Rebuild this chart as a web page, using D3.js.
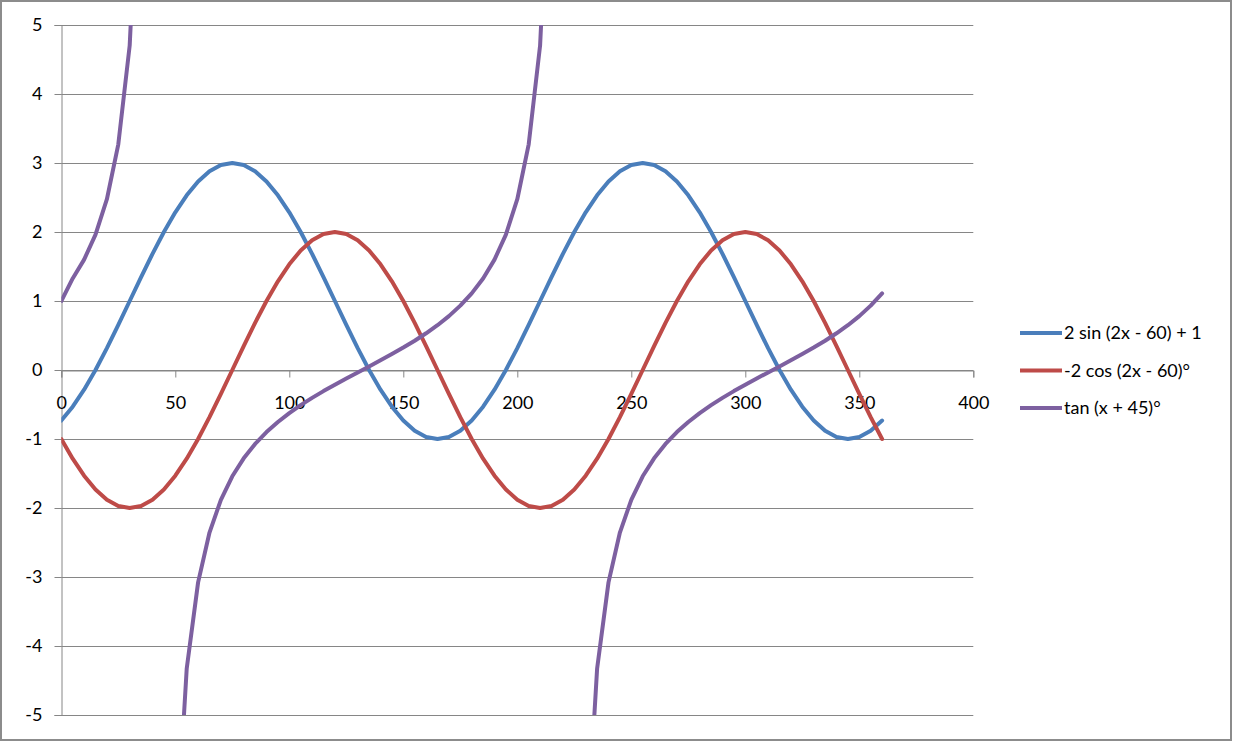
<!DOCTYPE html>
<html>
<head>
<meta charset="utf-8">
<script src="https://cdn.jsdelivr.net/npm/d3@7"></script>
<style>
html,body{margin:0;padding:0;background:#fff;}
svg{display:block;}
text{font-family:Lato,"Open Sans",sans-serif;fill:#000;}
</style>
</head>
<body>
<svg id="chart" width="1233" height="742"></svg>
<script>
const xValues = [0,5,10,15,20,25,30,35,40,45,50,55,60,65,70,75,80,85,90,95,100,105,110,115,120,125,130,135,140,145,150,155,160,165,170,175,180,
185,190,195,200,205,210,215,220,225,230,235,240,245,250,255,260,265,270,275,280,285,290,295,300,305,310,315,320,325,330,335,340,345,350,355,360];

const sinSeries = [-0.732,-0.532,-0.286,0,0.316,0.653,1,1.347,1.684,2,2.286,2.532,2.732,2.879,2.970,3,2.970,2.879,2.732,2.532,2.286,2,1.684,1.347,1,0.653,0.316,0,-0.286,-0.532,-0.732,-0.879,-0.970,-1,-0.970,-0.879,-0.732,
-0.532,-0.286,0,0.316,0.653,1,1.347,1.684,2,2.286,2.532,2.732,2.879,2.970,3,2.970,2.879,2.732,2.532,2.286,2,1.684,1.347,1,0.653,0.316,0,-0.286,-0.532,-0.732,-0.879,-0.970,-1,-0.970,-0.879,-0.732];

const cosSeries = [-1,-1.286,-1.532,-1.732,-1.879,-1.970,-2,-1.970,-1.879,-1.732,-1.532,-1.286,-1,-0.684,-0.347,0,0.347,0.684,1,1.286,1.532,1.732,1.879,1.970,2,1.970,1.879,1.732,1.532,1.286,1,0.684,0.347,0,-0.347,-0.684,-1,
-1.286,-1.532,-1.732,-1.879,-1.970,-2,-1.970,-1.879,-1.732,-1.532,-1.286,-1,-0.684,-0.347,0,0.347,0.684,1,1.286,1.532,1.732,1.879,1.970,2,1.970,1.879,1.732,1.532,1.286,1,0.684,0.347,0,-0.347,-0.684,-1];

const tanSeries = [1,1.327,1.600,1.963,2.475,3.271,4.705,8.144,null,null,-7.115,-4.331,-3.078,-2.356,-1.881,-1.540,-1.280,-1.072,-0.900,-0.754,-0.625,-0.510,-0.404,-0.306,-0.213,-0.123,-0.035,0.052,0.141,0.231,0.325,0.424,0.532,0.649,0.781,0.933,1.111,
1.327,1.600,1.963,2.475,3.271,4.705,8.144,null,null,-7.115,-4.331,-3.078,-2.356,-1.881,-1.540,-1.280,-1.072,-0.900,-0.754,-0.625,-0.510,-0.404,-0.306,-0.213,-0.123,-0.035,0.052,0.141,0.231,0.325,0.424,0.532,0.649,0.781,0.933,1.111];

const seriesNames = ["2 sin (2x - 60) + 1", "-2 cos (2x - 60)°", "tan (x + 45)°"];
const seriesColors = ["#4A7EBB", "#BE4B48", "#7D60A0"];
const xTicks = [0,50,100,150,200,250,300,350,400];
const yTicks = [-5,-4,-3,-2,-1,0,1,2,3,4,5];

(function(){
const svg = d3.select("#chart");
const W = 1233, H = 742;
const pLeft = 61.3, pRight = 973.3, pTop = 25, pBottom = 715;

// outer border
svg.append("rect").attr("x",1).attr("y",1).attr("width",W-3).attr("height",H-3)
  .attr("fill","#fff").attr("stroke","#8c8c8c").attr("stroke-width",2);

const x = d3.scaleLinear().domain([0,400]).range([pLeft,pRight]);
const y = d3.scaleLinear().domain([-5,5]).range([pBottom,pTop]);
const grid = "#868686";
const fmt = d => String(d);

// horizontal gridlines
svg.append("g").selectAll("line").data(yTicks).join("line")
  .attr("x1",pLeft).attr("x2",pRight)
  .attr("y1",d=>Math.round(y(d))+0.5).attr("y2",d=>Math.round(y(d))+0.5)
  .attr("stroke",grid).attr("stroke-width",1);

// y axis
const yAxis = d3.axisLeft(y).tickValues(yTicks).tickSize(7).tickPadding(12).tickFormat(fmt);
const gy = svg.append("g").attr("transform",`translate(${Math.round(pLeft)+0.5},0)`).call(yAxis);
gy.select(".domain").attr("stroke",grid);
gy.selectAll(".tick line").attr("stroke",grid);
gy.selectAll(".tick text").attr("font-size",18).attr("font-family","Lato").attr("fill","#000");

// x axis at y=0
const xAxis = d3.axisBottom(x).tickValues(xTicks).tickSize(7).tickPadding(19).tickFormat(fmt);
const gx = svg.append("g").attr("transform",`translate(0,${Math.round(y(0))+0.5})`).call(xAxis);
gx.select(".domain").attr("stroke",grid);
gx.selectAll(".tick line").attr("stroke",grid);
gx.selectAll(".tick text").attr("font-size",18).attr("font-family","Lato").attr("fill","#000");

// clip
svg.append("clipPath").attr("id","plotclip").append("rect")
  .attr("x",pLeft).attr("y",pTop).attr("width",pRight-pLeft).attr("height",pBottom-pTop);

const allSeries = [sinSeries, cosSeries, tanSeries];
const line = d3.line()
  .defined(d=>d[1]!==null)
  .x(d=>x(d[0])).y(d=>y(d[1]));

const plot = svg.append("g").attr("clip-path","url(#plotclip)");
allSeries.forEach((s,i)=>{
  const pts = xValues.map((xv,j)=>[xv,s[j]]);
  plot.append("path").datum(pts)
    .attr("fill","none").attr("stroke",seriesColors[i]).attr("stroke-width",4)
    .attr("stroke-linejoin","round").attr("stroke-linecap","round")
    .attr("d",line);
});

// legend
const legY = [333, 370.5, 408];
const lg = svg.append("g");
seriesNames.forEach((n,i)=>{
  lg.append("line").attr("x1",1020).attr("x2",1062).attr("y1",legY[i]).attr("y2",legY[i])
    .attr("stroke",seriesColors[i]).attr("stroke-width",4);
  lg.append("text").attr("x",1064).attr("y",legY[i]).attr("dy","0.35em")
    .attr("font-size",18).text(n);
});
})();
</script>
</body>
</html>
